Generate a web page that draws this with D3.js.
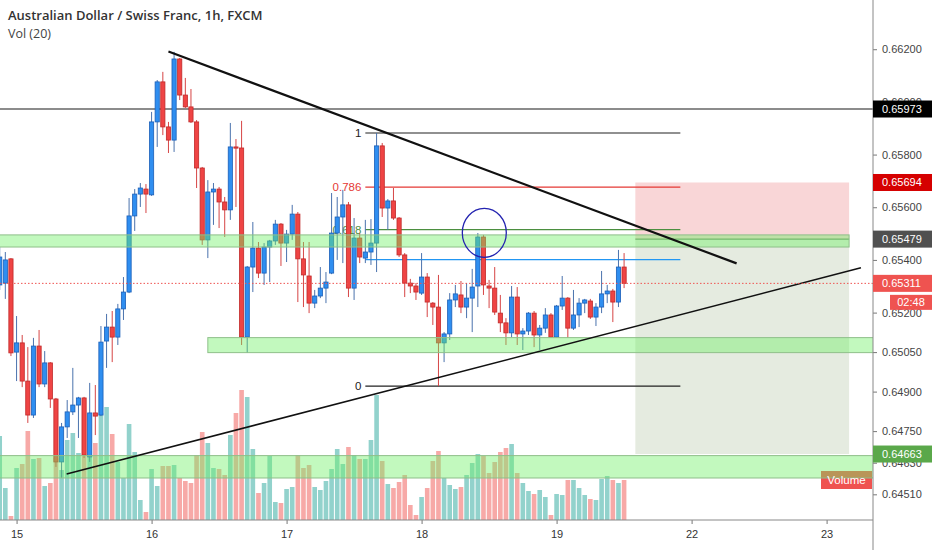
<!DOCTYPE html>
<html>
<head>
<meta charset="utf-8">
<script src="https://cdn.jsdelivr.net/npm/d3@7/dist/d3.min.js"></script>
<style>
  body { margin: 0; background: #fff; overflow: hidden; }
  svg { display: block; font-family: "Liberation Sans", Arial, sans-serif; }
</style>
</head>
<body>
<script>
// AUD/CHF 1h candles [open, high, low, close], bar 3 = 15th 00:00
var candles = [
  [0.65305, 0.65449, 0.65286, 0.65411], [0.65312, 0.65430, 0.65252, 0.65400],
  [0.65404, 0.65407, 0.65035, 0.65047], [0.65050, 0.65187, 0.64940, 0.65085],
  [0.65085, 0.65115, 0.64917, 0.64940], [0.64940, 0.65069, 0.64781, 0.64811],
  [0.64811, 0.65104, 0.64800, 0.65073], [0.65073, 0.65134, 0.64917, 0.64929],
  [0.64929, 0.65054, 0.64917, 0.65009], [0.65009, 0.65012, 0.64838, 0.64872],
  [0.64872, 0.64876, 0.64614, 0.64633], [0.64633, 0.64781, 0.64572, 0.64766],
  [0.64766, 0.64868, 0.64724, 0.64823], [0.64823, 0.64990, 0.64811, 0.64849],
  [0.64849, 0.64880, 0.64724, 0.64876], [0.64876, 0.64880, 0.64648, 0.64659],
  [0.64652, 0.64933, 0.64633, 0.64819], [0.64819, 0.64925, 0.64735, 0.64807],
  [0.64811, 0.65149, 0.64807, 0.65088], [0.65092, 0.65195, 0.64990, 0.65145],
  [0.65145, 0.65206, 0.65012, 0.65107], [0.65107, 0.65233, 0.65077, 0.65214],
  [0.65214, 0.65335, 0.65172, 0.65278], [0.65278, 0.65635, 0.65274, 0.65567],
  [0.65567, 0.65669, 0.65510, 0.65650], [0.65650, 0.65692, 0.65601, 0.65673],
  [0.65669, 0.65688, 0.65578, 0.65650], [0.65647, 0.65962, 0.65643, 0.65924],
  [0.65924, 0.66083, 0.65829, 0.66076], [0.66076, 0.66114, 0.65874, 0.65905],
  [0.65905, 0.65924, 0.65806, 0.65855], [0.65855, 0.66190, 0.65810, 0.66163],
  [0.66163, 0.66167, 0.66007, 0.66026], [0.66026, 0.66091, 0.65977, 0.65981],
  [0.65981, 0.66049, 0.65920, 0.65924], [0.65924, 0.65931, 0.65673, 0.65749],
  [0.65749, 0.65753, 0.65457, 0.65476], [0.65476, 0.65703, 0.65407, 0.65658],
  [0.65658, 0.65692, 0.65533, 0.65669], [0.65669, 0.65677, 0.65521, 0.65620],
  [0.65620, 0.65639, 0.65487, 0.65590], [0.65590, 0.65920, 0.65552, 0.65829],
  [0.65829, 0.65859, 0.65601, 0.65825], [0.65825, 0.65928, 0.65077, 0.65107],
  [0.65107, 0.65377, 0.65047, 0.65373], [0.65373, 0.65544, 0.65278, 0.65445],
  [0.65445, 0.65468, 0.65331, 0.65350], [0.65350, 0.65464, 0.65305, 0.65449],
  [0.65449, 0.65476, 0.65316, 0.65472], [0.65472, 0.65552, 0.65457, 0.65536],
  [0.65536, 0.65540, 0.65377, 0.65464], [0.65464, 0.65514, 0.65392, 0.65498],
  [0.65498, 0.65609, 0.65476, 0.65574], [0.65574, 0.65582, 0.65240, 0.65404],
  [0.65404, 0.65468, 0.65221, 0.65343], [0.65339, 0.65468, 0.65198, 0.65236],
  [0.65236, 0.65286, 0.65217, 0.65263], [0.65263, 0.65373, 0.65255, 0.65293],
  [0.65293, 0.65354, 0.65236, 0.65316], [0.65350, 0.65654, 0.65346, 0.65502],
  [0.65502, 0.65639, 0.65400, 0.65563], [0.65563, 0.65666, 0.65388, 0.65609],
  [0.65609, 0.65620, 0.65259, 0.65293], [0.65293, 0.65559, 0.65248, 0.65483],
  [0.65483, 0.65502, 0.65388, 0.65411], [0.65407, 0.65552, 0.65388, 0.65430],
  [0.65430, 0.65555, 0.65381, 0.65464], [0.65464, 0.65882, 0.65354, 0.65833],
  [0.65833, 0.65844, 0.65563, 0.65597], [0.65597, 0.65631, 0.65514, 0.65624],
  [0.65624, 0.65673, 0.65552, 0.65559], [0.65559, 0.65563, 0.65411, 0.65419],
  [0.65419, 0.65426, 0.65259, 0.65312], [0.65312, 0.65328, 0.65274, 0.65301],
  [0.65301, 0.65312, 0.65248, 0.65278], [0.65274, 0.65426, 0.65267, 0.65335],
  [0.65335, 0.65350, 0.65183, 0.65240], [0.65236, 0.65240, 0.65153, 0.65221],
  [0.65221, 0.65343, 0.64921, 0.65085], [0.65085, 0.65126, 0.65012, 0.65119],
  [0.65119, 0.65274, 0.65096, 0.65248], [0.65248, 0.65305, 0.65221, 0.65271],
  [0.65267, 0.65320, 0.65198, 0.65221], [0.65221, 0.65312, 0.65179, 0.65255],
  [0.65255, 0.65366, 0.65126, 0.65297], [0.65301, 0.65502, 0.65221, 0.65487],
  [0.65487, 0.65495, 0.65267, 0.65305], [0.65301, 0.65324, 0.65217, 0.65293],
  [0.65293, 0.65373, 0.65191, 0.65202], [0.65198, 0.65267, 0.65126, 0.65161],
  [0.65161, 0.65179, 0.65077, 0.65123], [0.65123, 0.65301, 0.65107, 0.65259],
  [0.65259, 0.65297, 0.65077, 0.65119], [0.65119, 0.65141, 0.65058, 0.65130],
  [0.65130, 0.65202, 0.65115, 0.65198], [0.65198, 0.65206, 0.65069, 0.65115],
  [0.65115, 0.65153, 0.65058, 0.65141], [0.65141, 0.65217, 0.65123, 0.65191],
  [0.65191, 0.65198, 0.65104, 0.65107], [0.65107, 0.65229, 0.65104, 0.65225],
  [0.65225, 0.65339, 0.65210, 0.65255], [0.65255, 0.65259, 0.65104, 0.65141],
  [0.65141, 0.65286, 0.65134, 0.65191], [0.65191, 0.65255, 0.65145, 0.65236],
  [0.65236, 0.65252, 0.65198, 0.65248], [0.65244, 0.65252, 0.65176, 0.65183],
  [0.65183, 0.65236, 0.65149, 0.65221], [0.65221, 0.65358, 0.65198, 0.65271],
  [0.65271, 0.65305, 0.65236, 0.65282], [0.65282, 0.65290, 0.65164, 0.65240],
  [0.65240, 0.65438, 0.65221, 0.65373], [0.65373, 0.65426, 0.65293, 0.65311]
];

// volume per bar (relative units)
var volumes = [
  84, 32, 4, 52, 56, 89, 61, 62, 34, 37, 62, 50, 80, 87, 67, 64, 63, 77, 107, 113,
  86, 58, 42, 96, 68, 20, 8, 51, 34, 54, 54, 55, 42, 39, 37, 65, 88, 77, 52, 51,
  45, 85, 107, 130, 123, 71, 27, 37, 64, 18, 17, 31, 33, 65, 52, 55, 33, 30, 39, 51,
  71, 56, 73, 65, 61, 61, 80, 125, 59, 36, 32, 38, 45, 15, 5, 23, 32, 59, 69, 42,
  35, 31, 33, 45, 57, 66, 64, 47, 58, 68, 72, 76, 47, 37, 29, 26, 30, 23, 5, 26,
  25, 40, 40, 32, 25, 21, 20, 41, 44, 40, 37, 40
];

var dayTicks = [3, 27, 51, 75, 99, 123, 147];
var dayLabels = ["15", "16", "17", "18", "19", "22", "23"];
var priceTicks = [0.662, 0.660, 0.658, 0.656, 0.654, 0.652, 0.6505, 0.649, 0.6475, 0.6463, 0.6451];

// drawings
var fibLevels = [1, 0.786, 0.618, 0.5, 0];
var fibNames = ["1", "0.786", "0.618", "", "0"];
var fibColors = ["#222", "#e53935", "#4b8f3f", "#2196f3", "#222"];
var fibRange = { high: 0.65882, low: 0.64921, from: 65, to: 121 };
var zones = [
  { from: -5, to: 151, top: 0.65495, bottom: 0.65449 },
  { from: 37, to: 160, top: 0.65105, bottom: 0.65048 },
  { from: -5, to: 160, top: 0.64657, bottom: 0.64572 }
];
var shortPos = { from: 113, to: 151, entry: 0.65479, stop: 0.65694, target: 0.64663 };
var resistance = 0.65973;
var trendDown = [[30, 0.66191], [131, 0.65387]];
var trendUp = [[11.9, 0.64587], [153.1, 0.65370]];
var circleAt = [86.15, 0.65503];
var lastPrice = 0.65311;
var priceTags = [
  { p: 0.65973, bg: "#000000" },
  { p: 0.65694, bg: "#d50000" },
  { p: 0.65479, bg: "#505050" },
  { p: 0.65311, bg: "#ef5350" },
  { p: 0.64663, bg: "#5aa84a" }
];

var W = 932, H = 550, plotW = 873, plotH = 520;

var svg = d3.select("body").append("svg")
  .attr("width", W).attr("height", H);

var x = d3.scaleLinear().domain([0, 155]).range([-0.3, 871.6]);
var y = d3.scaleLinear().domain([0.644125, 0.663869]).range([plotH, 0]);
var yVol = d3.scaleLinear().domain([0, 130]).range([plotH, 390]);

var plot = svg.append("g");
plot.append("clipPath").attr("id", "clip")
  .append("rect").attr("width", plotW).attr("height", plotH);

// "Volume" pane tag sits under the zones
plot.append("rect")
  .attr("x", 821).attr("y", y(0.64572) - 7).attr("width", 51).attr("height", 18)
  .attr("fill", "#ef5350");

var g = plot.append("g").attr("clip-path", "url(#clip)");

// short position box
g.append("rect")
  .attr("x", x(shortPos.from)).attr("width", x(shortPos.to) - x(shortPos.from))
  .attr("y", y(shortPos.stop)).attr("height", y(shortPos.entry) - y(shortPos.stop))
  .attr("fill", "#f9d6d7");
g.append("rect")
  .attr("x", x(shortPos.from)).attr("width", x(shortPos.to) - x(shortPos.from))
  .attr("y", y(shortPos.entry)).attr("height", y(shortPos.target) - y(shortPos.entry))
  .attr("fill", "#e5ebe0");

// volume
var step = x(1) - x(0);
g.selectAll(".vol").data(volumes).enter().append("rect")
  .attr("x", function(d, i) { return x(i) - (step - 1) / 2; })
  .attr("width", step - 1)
  .attr("y", function(d) { return yVol(d); })
  .attr("height", function(d) { return plotH - yVol(d); })
  .attr("fill", function(d, i) {
    return candles[i][3] >= candles[i][0] ? "rgba(38,166,154,0.5)" : "rgba(239,83,80,0.5)";
  });

// resistance line
g.append("line")
  .attr("x1", 0).attr("x2", plotW)
  .attr("y1", y(resistance)).attr("y2", y(resistance))
  .attr("stroke", "#1a1a1a").attr("stroke-width", 1.2);

// fib retracement
fibLevels.forEach(function(lv, i) {
  var p = fibRange.low + (fibRange.high - fibRange.low) * lv;
  g.append("line")
    .attr("x1", x(fibRange.from)).attr("x2", x(fibRange.to))
    .attr("y1", y(p)).attr("y2", y(p))
    .attr("stroke", fibColors[i]).attr("stroke-width", 1.2);
  if (fibNames[i]) {
    g.append("text")
      .attr("x", x(fibRange.from) - 4).attr("y", y(p) + 4)
      .attr("text-anchor", "end")
      .attr("font-size", 11.5)
      .attr("fill", fibColors[i])
      .text(fibNames[i]);
  }
});

// candles
var bw = 4.2;
var cg = g.selectAll(".candle").data(candles).enter().append("g");
cg.append("line")
  .attr("x1", function(d, i) { return x(i); })
  .attr("x2", function(d, i) { return x(i); })
  .attr("y1", function(d) { return y(d[1]); })
  .attr("y2", function(d) { return y(d[2]); })
  .attr("stroke", function(d) { return d[3] >= d[0] ? "#4a72ad" : "#d64545"; })
  .attr("stroke-width", 1);
cg.append("rect")
  .attr("x", function(d, i) { return x(i) - bw / 2; })
  .attr("width", bw)
  .attr("y", function(d) { return y(Math.max(d[0], d[3])); })
  .attr("height", function(d) { return Math.max(1.2, Math.abs(y(d[0]) - y(d[3]))); })
  .attr("fill", function(d) { return d[3] >= d[0] ? "#2f8ef0" : "#ef4444"; })
  .attr("stroke", function(d) { return d[3] >= d[0] ? "#1b5fb8" : "#c02a2a"; })
  .attr("stroke-width", 0.8);

// entry line of the position
g.append("line")
  .attr("x1", x(shortPos.from)).attr("x2", x(shortPos.to))
  .attr("y1", y(shortPos.entry)).attr("y2", y(shortPos.entry))
  .attr("stroke", "#5d7d58").attr("stroke-width", 1);

// support / resistance zones
zones.forEach(function(z) {
  g.append("rect")
    .attr("x", x(z.from)).attr("width", x(z.to) - x(z.from))
    .attr("y", y(z.top)).attr("height", y(z.bottom) - y(z.top))
    .attr("fill", "rgba(110,240,100,0.42)")
    .attr("stroke", "#8fbf8a").attr("stroke-width", 1);
});

// trend lines
var line = d3.line().x(function(d) { return x(d[0]); }).y(function(d) { return y(d[1]); });
g.append("path").attr("d", line(trendDown))
  .attr("fill", "none").attr("stroke", "#111").attr("stroke-width", 2.2);
g.append("path").attr("d", line(trendUp))
  .attr("fill", "none").attr("stroke", "#111").attr("stroke-width", 1.5);

// circle
g.append("ellipse")
  .attr("cx", x(circleAt[0])).attr("cy", y(circleAt[1]))
  .attr("rx", 22).attr("ry", 24.5)
  .attr("fill", "none").attr("stroke", "#2323b0").attr("stroke-width", 1.3);

// last price line
g.append("line")
  .attr("x1", 0).attr("x2", plotW)
  .attr("y1", y(lastPrice)).attr("y2", y(lastPrice))
  .attr("stroke", "#ef5350").attr("stroke-width", 1)
  .attr("stroke-dasharray", "1.5,2");

plot.append("text")
  .attr("x", 846.5).attr("y", y(0.64572) + 6.5)
  .attr("text-anchor", "middle").attr("font-size", 11.5).attr("fill", "#fff")
  .text("Volume");

// axes
var axisY = svg.append("g").attr("transform", "translate(" + plotW + ",0)")
  .call(d3.axisRight(y).tickValues(priceTicks).tickSize(4).tickPadding(5)
    .tickFormat(d3.format(".5f")));
axisY.select(".domain").remove();
axisY.selectAll("line").attr("stroke", "#777");
axisY.selectAll("text").attr("fill", "#444").attr("font-size", 11)
  .attr("font-family", "Liberation Sans, Arial, sans-serif");

var axisX = svg.append("g").attr("transform", "translate(0," + plotH + ")")
  .call(d3.axisBottom(x).tickValues(dayTicks).tickSize(4).tickPadding(6)
    .tickFormat(function(d, i) { return dayLabels[i]; }));
axisX.select(".domain").remove();
axisX.selectAll("line").attr("stroke", "#777");
axisX.selectAll("text").attr("fill", "#333").attr("font-size", 11)
  .attr("font-family", "Liberation Sans, Arial, sans-serif");

svg.append("line").attr("x1", 0).attr("x2", plotW).attr("y1", plotH).attr("y2", plotH)
  .attr("stroke", "#888");
svg.append("line").attr("x1", plotW).attr("x2", plotW).attr("y1", 0).attr("y2", H)
  .attr("stroke", "#888");

// price tags on the axis
priceTags.forEach(function(t) {
  svg.append("rect")
    .attr("x", plotW).attr("y", y(t.p) - 8.5).attr("width", W - plotW).attr("height", 17)
    .attr("fill", t.bg);
  svg.append("text")
    .attr("x", plotW + 9).attr("y", y(t.p) + 4)
    .attr("font-size", 11).attr("fill", "#fff")
    .text(t.p.toFixed(5));
});
// bar countdown under the last price
svg.append("rect")
  .attr("x", 890).attr("y", y(lastPrice) + 11.5).attr("width", 42).attr("height", 15)
  .attr("fill", "#ef5350");
svg.append("text")
  .attr("x", 911).attr("y", y(lastPrice) + 23)
  .attr("text-anchor", "middle").attr("font-size", 11).attr("fill", "#fff")
  .text("02:48");

// titles
svg.append("text").attr("x", 8).attr("y", 20)
  .attr("font-family", "Open Sans, sans-serif").attr("font-weight", 600)
  .attr("font-size", 13).attr("fill", "#333")
  .text("Australian Dollar / Swiss Franc, 1h, FXCM");
svg.append("text").attr("x", 8).attr("y", 38)
  .attr("font-family", "Open Sans, sans-serif")
  .attr("font-size", 12.5).attr("fill", "#444")
  .text("Vol (20)");
</script>
</body>
</html>
